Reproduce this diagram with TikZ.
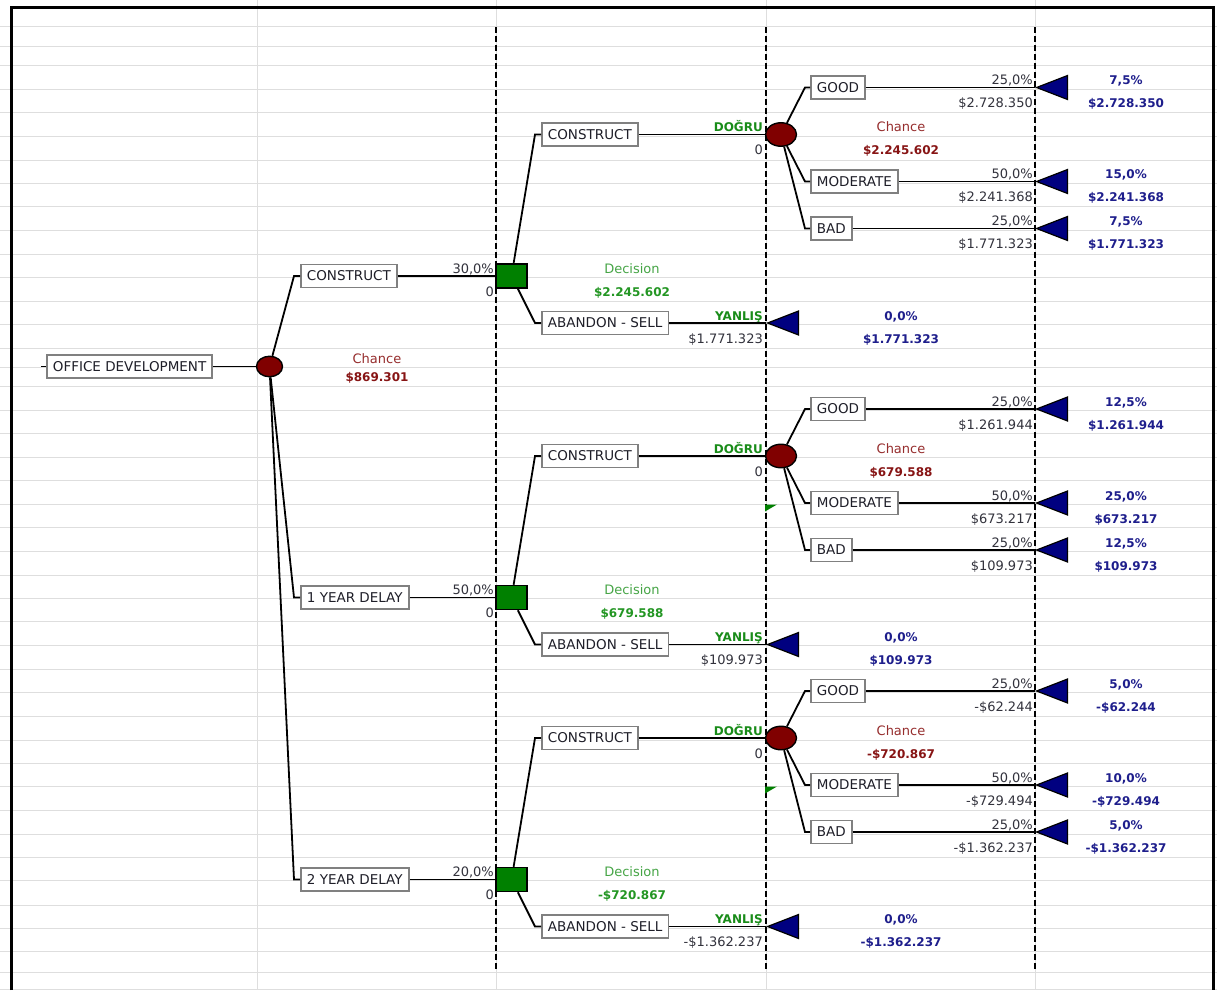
\documentclass[tikz,border=0pt]{standalone}
\usepackage{fontspec}
\setmainfont{DejaVu Sans}
\usetikzlibrary{shapes.geometric}
\definecolor{gridgray}{RGB}{222,222,222}
\definecolor{boxgray}{RGB}{128,128,128}
\definecolor{boxtxt}{RGB}{30,30,40}
\definecolor{numtxt}{RGB}{50,50,60}
\definecolor{chfill}{RGB}{128,0,0}
\definecolor{chtxt}{RGB}{150,45,45}
\definecolor{chval}{RGB}{135,20,20}
\definecolor{decfill}{RGB}{0,128,0}
\definecolor{dectxt}{RGB}{70,165,70}
\definecolor{decval}{RGB}{35,150,35}
\definecolor{oktxt}{RGB}{25,140,25}
\definecolor{termfill}{RGB}{0,0,128}
\definecolor{termtxt}{RGB}{30,30,140}
\newcommand{\txtfont}{\fontsize{13}{15}\selectfont}
\newcommand{\boxfont}{\fontsize{13.5}{15}\selectfont}
\newcommand{\valfont}{\fontsize{12}{14}\selectfont\bfseries}

\begin{document}
\begin{tikzpicture}[x=1pt,y=-1pt,
    conn/.style={line width=1.8pt,draw=black},
    gridln/.style={gridgray,line width=0.8pt},
    sepline/.style={line width=1.6pt,dash pattern=on 6pt off 3pt},
    optbox/.style={draw=boxgray,line width=1.8pt,fill=white,text=boxtxt,font=\boxfont,
      inner xsep=6pt,inner ysep=0pt,minimum height=23pt,anchor=west},
    chancenode/.style={ellipse,draw=black,line width=1.4pt,fill=chfill,
      minimum width=31pt,minimum height=23.5pt,inner sep=0pt},
    decnode/.style={draw=black,line width=1.4pt,fill=decfill,
      minimum width=31pt,minimum height=24pt,inner sep=0pt},
    endnode/.style={isosceles triangle,isosceles triangle stretches,shape border rotate=180,
      draw=black,line width=1.2pt,fill=termfill,minimum width=24pt,minimum height=31pt,
      inner sep=0pt,anchor=apex},
    numlbl/.style={font=\txtfont,text=numtxt,inner sep=0pt,anchor=base east},
    oklbl/.style={font=\valfont,text=oktxt,inner sep=0pt,anchor=base east},
    chlbl/.style={font=\txtfont,text=chtxt,inner sep=0pt,anchor=base},
    chvallbl/.style={font=\valfont,text=chval,inner sep=0pt,anchor=base},
    declbl/.style={font=\txtfont,text=dectxt,inner sep=0pt,anchor=base},
    decvallbl/.style={font=\valfont,text=decval,inner sep=0pt,anchor=base},
    endlbl/.style={font=\valfont,text=termtxt,inner sep=0pt,anchor=base}]
  \useasboundingbox (0,0) rectangle (1217,990);
  \fill[white] (0,0) rectangle (1217,990);
  \foreach \y in {26,46.7,65.7,89.3,112.7,136,160,183.3,206.7,230,254,277.3,301,324.3,
      348.3,367.7,386.7,410,433.3,457.3,480.7,504,527.7,551,575,598.3,621.7,645.7,669.3,
      692.7,716.7,740,763.3,786.7,810,834,857.3,880.7,905,928.3,951.7,972,989}
    \draw[gridln] (0,\y) -- (1217,\y);
  \foreach \x in {257,496,766,1035}
    \draw[gridln] (\x,0) -- (\x,990);
  \foreach \x in {496,766,1035}
    \draw[sepline] (\x,27) -- (\x,971);
  \draw[line width=3pt] (11,990) -- (11,7.5) -- (1213.5,7.5) -- (1213.5,990);

  \coordinate (rt) at (41,366.5);
  \node[optbox] (root) at (46,366.5) {OFFICE DEVELOPMENT};
  \node[chancenode,minimum width=26pt,minimum height=20.5pt] (c0) at (269.5,366.5) {};
  \node[chlbl] (c0l) at (377,363.5) {Chance};
  \node[chvallbl] (c0v) at (377,381.5) {\$869.301};
  \draw[conn] (rt) -- (root);
  \draw[conn] (root) -- (c0);

  \foreach \i/\g/\lab/\pr/\dv/\av in {
      1/0/CONSTRUCT/{30,0}/\$2.245.602/\$1.771.323,
      2/321.5/1 YEAR DELAY/{50,0}/\$679.588/\$109.973,
      3/603.5/2 YEAR DELAY/{20,0}/-\$720.867/-\$1.362.237}{
    \node[optbox] (b\i) at (300,{276+\g}) {\lab};
    \node[decnode] (d\i) at (511.5,{276+\g}) {};
    \node[numlbl] (p\i) at (494,{273+\g}) {\pr\%};
    \node[numlbl] (z\i) at (494,{296+\g}) {0};
    \node[declbl] (dl\i) at (632,{273+\g}) {Decision};
    \node[decvallbl] (dv\i) at (632,{296+\g}) {\dv};
    \node[optbox] (k\i) at (541,{134.5+\g}) {CONSTRUCT};
    \node[optbox] (a\i) at (541,{323+\g}) {ABANDON - SELL};
    \node[chancenode] (c\i) at (781,{134.5+\g}) {};
    \node[endnode] (t\i) at (766,{323+\g}) {};
    \node[oklbl] (y\i) at (763,{131.5+\g}) {DOĞRU};
    \node[numlbl] (yz\i) at (763,{154.5+\g}) {0};
    \node[chlbl] (cl\i) at (901,{131.5+\g}) {Chance};
    \node[chvallbl] (cv\i) at (901,{154.5+\g}) {\dv};
    \node[oklbl] (n\i) at (763,{320+\g}) {YANLIŞ};
    \node[numlbl] (nv\i) at (763,{343+\g}) {\av};
    \node[endlbl] (tp\i) at (901,{320+\g}) {0,0\%};
    \node[endlbl] (tv\i) at (901,{343+\g}) {\av};
    \draw[conn] (c0) -- ([xshift=-6pt]b\i.west) -- (b\i.west);
    \draw[conn] (b\i) -- (d\i);
    \draw[conn] (d\i) -- ([xshift=-6pt]k\i.west) -- (k\i.west);
    \draw[conn] (d\i) -- ([xshift=-6pt]a\i.west) -- (a\i.west);
    \draw[conn] (k\i) -- (c\i);
    \draw[conn] (a\i) -- (t\i.apex);
  }

  \foreach \i/\j/\y/\olab/\op/\ov/\jp in {
      1/1/87.5/GOOD/{25,0}/\$2.728.350/{7,5},
      1/2/181.5/MODERATE/{50,0}/\$2.241.368/{15,0},
      1/3/228.5/BAD/{25,0}/\$1.771.323/{7,5},
      2/1/409/GOOD/{25,0}/\$1.261.944/{12,5},
      2/2/503/MODERATE/{50,0}/\$673.217/{25,0},
      2/3/550/BAD/{25,0}/\$109.973/{12,5},
      3/1/691/GOOD/{25,0}/-\$62.244/{5,0},
      3/2/785/MODERATE/{50,0}/-\$729.494/{10,0},
      3/3/832/BAD/{25,0}/-\$1.362.237/{5,0}}{
    \node[optbox] (o\i\j) at (810,\y) {\olab};
    \node[endnode] (e\i\j) at (1035,\y) {};
    \node[numlbl] (op\i\j) at (1033,{\y-3}) {\op\%};
    \node[numlbl] (ov\i\j) at (1033,{\y+20}) {\ov};
    \node[endlbl] (jp\i\j) at (1126,{\y-3}) {\jp\%};
    \node[endlbl] (jv\i\j) at (1126,{\y+20}) {\ov};
    \draw[conn] (c\i) -- ([xshift=-5pt]o\i\j.west) -- (o\i\j.west);
    \draw[conn] (o\i\j) -- (e\i\j.apex);
  }

  \foreach \fy in {504.5,786.5}
    \fill[decfill] (765,\fy) -- (777,\fy) -- (765,{\fy+7}) -- cycle;
\end{tikzpicture}
\end{document}
